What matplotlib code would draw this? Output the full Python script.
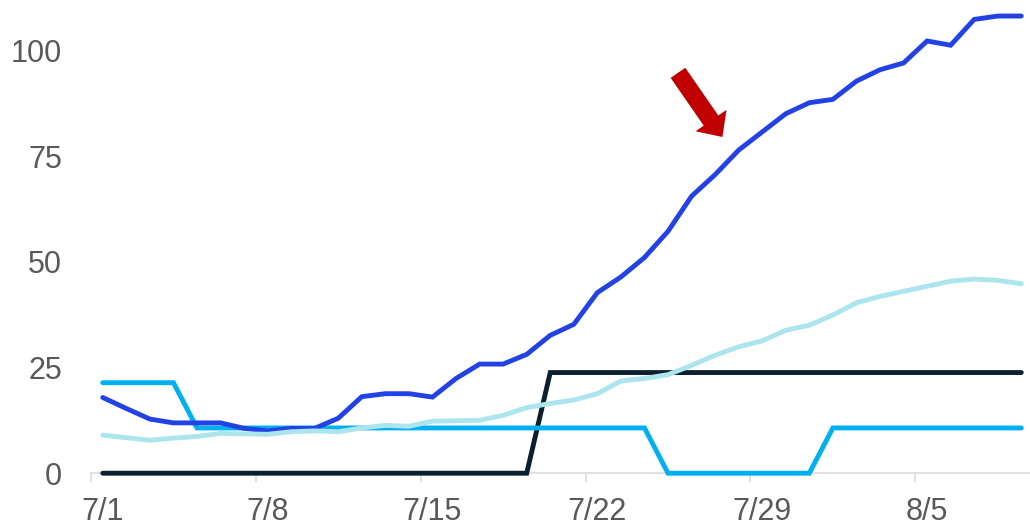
import numpy as np
import matplotlib
matplotlib.use("Agg")
import matplotlib.pyplot as plt

# Daily values, 7/1 through 8/9
x_labels = ["7/1", "7/8", "7/15", "7/22", "7/29", "8/5"]
n_days = 40

navy_series = [0.0] * 19 + [23.8] * 21

cyan_series = [21.4] * 4 + [10.7] * 20 + [0.0] * 7 + [10.7] * 9

blue_series = [17.9, 15.3, 12.8, 11.9, 11.9, 11.9, 10.6, 10.0, 10.6, 10.6,
               13.0, 18.1, 18.8, 18.8, 18.0, 22.4, 25.8, 25.8, 28.1, 32.6,
               35.2, 42.7, 46.4, 51.0, 57.2, 65.5, 70.6, 76.4, 80.7, 85.0,
               87.6, 88.4, 92.7, 95.4, 97.0, 102.2, 101.2, 107.3, 108.1, 108.1]

pale_series = [9.0, 8.4, 7.8, 8.3, 8.7, 9.4, 9.3, 9.2, 9.8, 10.0,
               9.8, 10.7, 11.3, 11.1, 12.3, 12.4, 12.5, 13.7, 15.5, 16.5,
               17.3, 18.8, 21.8, 22.4, 23.3, 25.5, 27.9, 29.9, 31.3, 33.8,
               35.0, 37.4, 40.3, 41.8, 43.0, 44.2, 45.4, 45.9, 45.6, 44.8]

y_ticks = [0, 25, 50, 75, 100]

plt.rcParams["font.family"] = ["Liberation Sans", "DejaVu Sans"]

fig = plt.figure(figsize=(10.30, 5.26), dpi=100)
ax = fig.add_axes([0.08835, 0.10038, 0.91165, 0.8844])

days = np.arange(n_days)
line_kw = dict(linewidth=3.5, solid_capstyle="round", solid_joinstyle="miter",
               clip_on=False)
ax.plot(days, navy_series, color="#0b1f2e", zorder=3, **line_kw)
ax.plot(days, cyan_series, color="#00b0f0", zorder=4, **line_kw)
ax.plot(days, blue_series, color="#2342e6", zorder=5, **line_kw)
ax.plot(days, pale_series, color="#ace5ee", zorder=6, **line_kw)

ax.set_xlim(-0.5, 39.37)
ax.set_ylim(0, 110)

# Labels sit under each week's first day; tick marks sit between categories
ax.set_xticks(np.arange(0, n_days, 7))
ax.set_xticklabels(x_labels)
ax.set_xticks(np.arange(-0.5, n_days, 7), minor=True)
ax.tick_params(axis="x", which="major", length=0, pad=17,
               labelsize=22, labelcolor="#595959")
ax.tick_params(axis="x", which="minor", length=6.5, width=1.1,
               color="#d9d9d9")

ax.set_yticks(y_ticks)
ax.tick_params(axis="y", length=0, pad=21, labelsize=22, labelcolor="#595959")

for side in ("top", "right", "left"):
    ax.spines[side].set_visible(False)
ax.spines["bottom"].set_color("#d9d9d9")
ax.spines["bottom"].set_linewidth(1.1)

# Red pointer arrow toward the rising blue line
ax.annotate("", xy=(26.31, 79.5), xytext=(-32.0, 46.2),
            textcoords="offset points",
            arrowprops=dict(arrowstyle="simple,head_length=14.4,head_width=27.1,tail_width=12.8",
                            mutation_scale=1, color="#c00000", shrinkA=0, shrinkB=0,
                            linewidth=0),
            zorder=7)

fig.savefig("out.png", dpi=100)
